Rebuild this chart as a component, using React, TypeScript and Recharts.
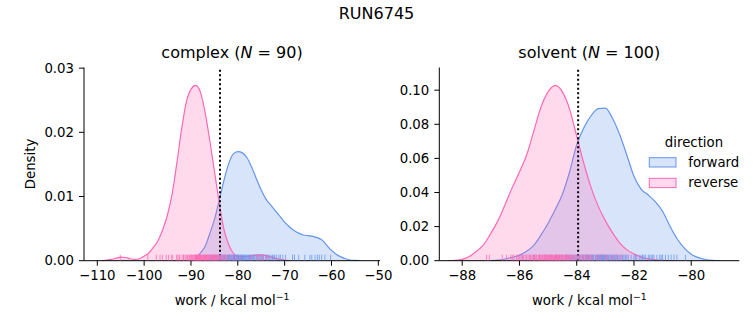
import React from "react";
import { ComposedChart, Area, Scatter, XAxis, YAxis, ReferenceLine } from "recharts";

const FONT = "DejaVu Sans, Verdana, sans-serif";
const BLUE = "#6495ED";
const PINK = "#FF69B4";

// ---- complex phase: KDE grid (kcal/mol) and densities ----
const complexGrid = [-110,-109,-108,-107,-106,-105,-104,-103,-102,-101,-100,-99,-98,-97,-96,-95,-94,-93,-92,-91,-90,-89,-88,-87,-86,-85,-84,-83,-82,-81,-80,-79,-78,-77,-76,-75,-74,-73,-72,-71,-70,-69,-68,-67,-66,-65,-64,-63,-62,-61,-60,-59,-58,-57,-56,-55,-54,-53,-52];
const complexReverse = [null,0.00002,0.0001,0.0002,0.0004,0.00055,0.0005,0.0003,0.0002,0.0003,0.0007,0.0012,0.0021,0.0032,0.0049,0.0072,0.0105,0.0153,0.0205,0.0247,0.0267,0.0273,0.0263,0.0232,0.0188,0.014,0.0092,0.005,0.0026,0.0012,0.0007,0.0006,0.0007,0.0008,0.0009,0.0009,0.0008,0.0006,0.0004,0.0002,0.0001,0.00003,null,null,null,null,null,null,null,null,null,null,null,null,null,null,null,null,null];
const complexForward = [null,null,null,null,null,null,null,null,null,null,null,null,null,null,null,null,null,null,null,null,null,0.0002,0.0012,0.0022,0.0042,0.0064,0.0093,0.0124,0.015,0.0166,0.017,0.0168,0.016,0.0145,0.0127,0.011,0.0096,0.0087,0.0078,0.0069,0.006,0.0053,0.0047,0.0043,0.004,0.0039,0.0038,0.0036,0.0032,0.0024,0.0016,0.001,0.0006,0.0003,0.0001,0.00004,0.00001,null,null];
const complexReverseRug = [-105.1,-99.2,-97.4,-96.6,-96.1,-95.3,-94.8,-94.2,-93.9,-93.1,-92.8,-92.5,-92.4,-91.9,-91.6,-91.5,-91.2,-90.9,-90.8,-90.6,-90.3,-90.2,-90.0,-89.9,-89.7,-89.6,-89.4,-89.3,-89.1,-89.0,-88.9,-88.8,-88.6,-88.5,-88.4,-88.2,-88.1,-88.0,-87.8,-87.7,-87.6,-87.4,-87.3,-87.1,-87.0,-86.9,-86.7,-86.6,-86.4,-86.3,-86.1,-86.0,-85.8,-85.7,-85.5,-85.4,-85.2,-85.0,-84.9,-84.7,-84.6,-84.4,-84.3,-84.1,-83.9,-83.7,-83.5,-83.2,-82.9,-82.6,-82.2,-81.7,-81.1,-80.4,-79.5,-77.1,-76.0,-75.3,-74.6,-73.8,-89.05,-88.35,-87.95,-87.25,-86.85,-86.55,-85.95,-85.35,-84.85,-88.7];
const complexForwardRug = [-86.3,-85.6,-85.2,-84.9,-84.6,-84.4,-84.1,-83.9,-83.6,-83.4,-83.2,-83.0,-82.8,-82.7,-82.5,-82.3,-82.2,-82.0,-81.8,-81.7,-81.5,-81.3,-81.2,-81.0,-80.9,-80.7,-80.6,-80.4,-80.3,-80.1,-80.0,-79.8,-79.7,-79.5,-79.4,-79.2,-79.0,-78.8,-78.7,-78.5,-78.2,-78.0,-77.8,-77.5,-77.3,-77.0,-76.8,-76.4,-76.1,-75.9,-75.5,-75.2,-74.9,-74.5,-74.1,-73.8,-73.3,-72.9,-72.6,-72.1,-71.7,-71.2,-70.4,-69.8,-68.3,-67.9,-67.0,-65.7,-64.6,-64.2,-63.5,-63.0,-62.6,-62.1,-61.4,-60.2,-83.75,-82.9,-81.9,-80.8,-79.9,-79.1,-78.4,-77.6,-76.6,-75.7,-74.7,-73.5,-72.3,-70.9];
const complexEstimate = -83.8;
const complexXTicks = [-110,-100,-90,-80,-70,-60,-50];
const complexYTicks = [0,0.01,0.02,0.03];

// ---- solvent phase ----
const solventGrid = [-88.5,-88.25,-88,-87.75,-87.5,-87.25,-87,-86.75,-86.5,-86.25,-86,-85.75,-85.5,-85.25,-85,-84.75,-84.5,-84.25,-84,-83.75,-83.5,-83.25,-83,-82.75,-82.5,-82.25,-82,-81.75,-81.5,-81.25,-81,-80.75,-80.5,-80.25,-80,-79.75,-79.5,-79.25,-79,-78.75];
const solventReverse = [0,0.0002,0.0008,0.0025,0.0055,0.0095,0.016,0.0235,0.033,0.043,0.052,0.062,0.076,0.09,0.099,0.1028,0.099,0.089,0.073,0.057,0.043,0.032,0.0235,0.0165,0.0105,0.0065,0.004,0.0022,0.0011,0.0005,0.0002,0.0001,0,null,null,null,null,null,null,null];
const solventForward = [null,null,null,null,null,null,0,0.0003,0.001,0.002,0.0033,0.0055,0.009,0.015,0.022,0.03,0.039,0.052,0.068,0.078,0.085,0.0892,0.0895,0.0835,0.074,0.062,0.0495,0.042,0.0385,0.0345,0.029,0.0205,0.013,0.0075,0.0038,0.0018,0.0007,0.0002,0,null];
const solventReverseRug = [-87.15,-87.05,-86.6,-86.45,-86.3,-86.2,-86.1,-86.0,-85.95,-85.85,-85.8,-85.7,-85.65,-85.6,-85.5,-85.45,-85.4,-85.35,-85.3,-85.25,-85.2,-85.15,-85.1,-85.05,-85.0,-84.97,-84.93,-84.9,-84.85,-84.82,-84.78,-84.75,-84.7,-84.66,-84.62,-84.58,-84.55,-84.5,-84.45,-84.4,-84.35,-84.3,-84.25,-84.2,-84.15,-84.1,-84.02,-83.95,-83.85,-83.75,-83.65,-83.55,-83.45,-83.3,-83.15,-83.0,-82.8,-82.6,-82.45,-84.88,-84.72,-84.64,-85.12,-85.28,-85.55,-85.75,-84.48,-84.38,-84.28,-84.68,-84.8,-85.02,-85.18,-85.42,-85.9,-86.05,-84.08,-83.9,-83.7,-83.5,-84.52,-84.6,-84.42,-84.95,-85.08,-85.32,-85.62,-86.25,-84.18,-84.32,-83.8,-83.6,-83.25,-82.95,-84.74,-84.86,-84.99,-85.22,-85.48,-82.7];
const solventForwardRug = [-85.9,-85.5,-85.3,-85.1,-84.9,-84.75,-84.6,-84.5,-84.4,-84.3,-84.2,-84.1,-84.0,-83.95,-83.9,-83.85,-83.8,-83.75,-83.7,-83.65,-83.6,-83.55,-83.5,-83.45,-83.4,-83.35,-83.3,-83.27,-83.24,-83.2,-83.17,-83.14,-83.1,-83.07,-83.04,-83.0,-82.96,-82.92,-82.88,-82.84,-82.8,-82.75,-82.7,-82.65,-82.6,-82.55,-82.5,-82.45,-82.4,-82.3,-82.2,-82.1,-82.0,-81.9,-81.8,-81.7,-81.6,-81.5,-81.4,-81.3,-81.2,-81.1,-81.0,-80.9,-80.8,-80.6,-80.5,-80.2,-83.33,-83.22,-83.12,-83.02,-82.98,-83.48,-83.58,-83.68,-83.78,-84.05,-84.15,-84.35,-84.55,-82.68,-82.58,-82.35,-82.25,-81.95,-81.65,-81.35,-81.05,-83.15,-83.05,-82.9,-82.78,-83.42,-83.62,-84.25,-84.7,-81.75,-81.45,-80.7];
const solventEstimate = -83.95;
const solventXTicks = [-88,-86,-84,-82,-80];
const solventYTicks = [0,0.02,0.04,0.06,0.08,0.1];

const mkData = (grid: number[], fwd: (number | null)[], rev: (number | null)[]) =>
  grid.map((x, i) => ({ x, forward: fwd[i], reverse: rev[i] }));
const mkRug = (vals: number[]) => vals.map((x) => ({ x, y: 0 }));

const minus = (v: number) => String(v).replace("-", "\u2212");
const tickStyle = { fontSize: 13.3, fill: "#000", fontFamily: FONT };

const rugShape = (color: string) => (p: any) => (
  <line x1={p.cx} x2={p.cx} y1={p.cy} y2={p.cy - 6} stroke={color} strokeWidth={1} strokeOpacity={0.75} />
);

type PanelProps = {
  width: number;
  left: number;
  yWidth: number;
  marginLeft: number;
  marginRight: number;
  data: any[];
  xDomain: [number, number];
  yDomain: [number, number];
  xTicks: number[];
  yTicks: number[];
  fwdRug: number[];
  revRug: number[];
  estimate: number;
};

function Panel(p: PanelProps) {
  return (
    <div style={{ position: "absolute", left: p.left, top: 0 }}>
      <ComposedChart
        width={p.width}
        height={325}
        data={p.data}
        margin={{ top: 67.5, right: p.marginRight, bottom: 34.3, left: p.marginLeft }}
      >
        <XAxis
          dataKey="x"
          type="number"
          domain={p.xDomain}
          ticks={p.xTicks}
          allowDataOverflow
          tickFormatter={minus}
          tick={tickStyle}
          tickSize={5}
          tickMargin={5}
          height={30}
          stroke="#000"
          tickLine={{ stroke: "#000" }}
        />
        <YAxis
          type="number"
          domain={p.yDomain}
          ticks={p.yTicks}
          allowDataOverflow
          tickFormatter={(v: number) => v.toFixed(2)}
          tick={tickStyle}
          tickSize={5}
          tickMargin={5}
          width={p.yWidth}
          stroke="#000"
          tickLine={{ stroke: "#000" }}
        />
        <Area
          type="monotone"
          dataKey="forward"
          stroke={BLUE}
          strokeWidth={1.2}
          fill={BLUE}
          fillOpacity={0.25}
          dot={false}
          activeDot={false}
          isAnimationActive={false}
        />
        <Area
          type="monotone"
          dataKey="reverse"
          stroke={PINK}
          strokeWidth={1.2}
          fill={PINK}
          fillOpacity={0.25}
          dot={false}
          activeDot={false}
          isAnimationActive={false}
        />
        <Scatter data={mkRug(p.fwdRug)} dataKey="y" shape={rugShape(BLUE)} isAnimationActive={false} />
        <Scatter data={mkRug(p.revRug)} dataKey="y" shape={rugShape(PINK)} isAnimationActive={false} />
        <ReferenceLine x={p.estimate} stroke="#000" strokeWidth={2} strokeDasharray="2 2.5" />
      </ComposedChart>
    </div>
  );
}

export default function App() {
  const txt = { fontFamily: FONT, fill: "#000" } as any;
  return (
    <div style={{ position: "absolute", left: 0, top: 0, width: 753, height: 325, background: "#fff" }}>
      <Panel
        width={420}
        left={0}
        yWidth={60}
        marginLeft={24}
        marginRight={40}
        data={mkData(complexGrid, complexForward, complexReverse)}
        xDomain={[-112.84, -49.64]}
        yDomain={[0, 0.0301]}
        xTicks={complexXTicks}
        yTicks={complexYTicks}
        fwdRug={complexForwardRug}
        revRug={complexReverseRug}
        estimate={complexEstimate}
      />
      <Panel
        width={363}
        left={390}
        yWidth={45}
        marginLeft={4.3}
        marginRight={13.7}
        data={mkData(solventGrid, solventForward, solventReverse)}
        xDomain={[-88.8, -78.32]}
        yDomain={[0, 0.1133]}
        xTicks={solventXTicks}
        yTicks={solventYTicks}
        fwdRug={solventForwardRug}
        revRug={solventReverseRug}
        estimate={solventEstimate}
      />
      <svg width={753} height={325} style={{ position: "absolute", left: 0, top: 0, pointerEvents: "none" }}>
        <text x={376.5} y={19} textAnchor="middle" fontSize={16} {...txt}>RUN6745</text>
        <text x={232} y={58} textAnchor="middle" fontSize={16} {...txt}>
          complex (<tspan fontStyle="italic">N</tspan> = 90)
        </text>
        <text x={589.3} y={58} textAnchor="middle" fontSize={16} {...txt}>
          solvent (<tspan fontStyle="italic">N</tspan> = 100)
        </text>
        <text x={232} y={305} textAnchor="middle" fontSize={13.3} {...txt}>
          work / kcal mol<tspan dy={-5} fontSize={9.3}>{"\u22121"}</tspan>
        </text>
        <text x={589.3} y={305} textAnchor="middle" fontSize={13.3} {...txt}>
          work / kcal mol<tspan dy={-5} fontSize={9.3}>{"\u22121"}</tspan>
        </text>
        <text x={35} y={164} textAnchor="middle" fontSize={13.3} transform="rotate(-90 35 164)" {...txt}>Density</text>
        <text x={694} y={146.5} textAnchor="middle" fontSize={13.3} {...txt}>direction</text>
        <rect x={649.3} y={157.7} width={26.7} height={9.3} fill={BLUE} fillOpacity={0.25} stroke={BLUE} strokeWidth={1} />
        <text x={688.3} y={166.5} fontSize={13.3} {...txt}>forward</text>
        <rect x={649.3} y={178.3} width={26.7} height={9.3} fill={PINK} fillOpacity={0.25} stroke={PINK} strokeWidth={1} />
        <text x={688.3} y={187} fontSize={13.3} {...txt}>reverse</text>
      </svg>
    </div>
  );
}
